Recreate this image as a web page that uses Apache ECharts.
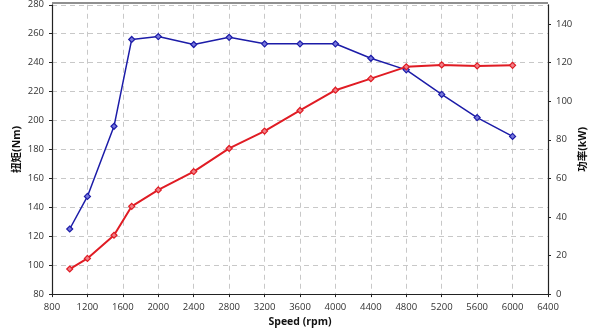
<!DOCTYPE html>
<html>
<head>
<meta charset="utf-8">
<script src="https://cdn.jsdelivr.net/npm/echarts@6/dist/echarts.min.js"></script>
<style>
  html, body { margin: 0; padding: 0; background: #fff; }
  #chart { width: 600px; height: 332px; }
</style>
</head>
<body>
<div id="chart"></div>
<script>
// engine speed (rpm)
const speeds = [1000, 1200, 1500, 1700, 2000, 2400, 2800, 3200, 3600, 4000, 4400, 4800, 5200, 5600, 6000]
// torque, Nm (left axis)
const torque = [125, 147.5, 196, 256, 258, 252.5, 257.5, 253, 253, 253, 243, 235, 218, 202, 189]
// power, kW (right axis)
const power = [13, 18.5, 30.5, 45.5, 54, 63.5, 75.5, 84.5, 95.2, 105.7, 111.7, 117.8, 118.8, 118.3, 118.6]

const FONT = '"Open Sans", "Noto Sans CJK SC", sans-serif'
const TORQUE_COLOR = '#1c1ca8'
const POWER_COLOR = '#e01c24'

const chart = echarts.init(document.getElementById('chart'))

function pairs(xs, ys) {
  return xs.map((x, i) => [x, ys[i]])
}

const labelStyle = { color: '#333', fontSize: 9.5, fontFamily: FONT }
const nameStyle = { color: '#111', fontSize: 10.5, fontWeight: 'bold', fontFamily: FONT }
const plain = v => String(v)

chart.setOption({
  animation: false,
  grid: { left: 52, right: 52, top: 3, bottom: 35 },
  xAxis: {
    type: 'value',
    min: 800,
    max: 6400,
    interval: 400,
    name: 'Speed (rpm)',
    nameLocation: 'middle',
    nameGap: 22,
    nameTextStyle: nameStyle,
    axisLine: { onZero: false, lineStyle: { color: '#222', width: 1.2 } },
    axisTick: { show: true, length: 3, lineStyle: { color: '#222' } },
    axisLabel: Object.assign({ margin: 8, formatter: plain }, labelStyle),
    splitLine: { lineStyle: { color: '#c8c8c8', type: [5, 4] } },
  },
  yAxis: [
    {
      type: 'value',
      min: 80,
      max: 280,
      interval: 20,
      name: '扭矩(Nm)',
      nameLocation: 'middle',
      nameRotate: 90,
      nameGap: 30,
      nameMoveOverlap: false,
      nameTextStyle: nameStyle,
      axisLine: { show: true, lineStyle: { color: '#222', width: 1.2 } },
      axisTick: { show: true, length: 3, lineStyle: { color: '#222' } },
      axisLabel: Object.assign({ margin: 8, formatter: plain }, labelStyle),
      splitLine: { lineStyle: { color: '#c8c8c8', type: [5, 4] } },
    },
    {
      type: 'value',
      min: 0,
      max: 150,
      interval: 20,
      name: '功率(kW)',
      nameLocation: 'middle',
      nameRotate: 90,
      nameGap: 30,
      nameMoveOverlap: false,
      nameTextStyle: nameStyle,
      axisLine: { show: true, lineStyle: { color: '#222', width: 1.2 } },
      axisTick: { show: true, length: 3, lineStyle: { color: '#222' } },
      axisLabel: Object.assign({ margin: 8, showMaxLabel: false, formatter: plain }, labelStyle),
      splitLine: { show: false },
    },
  ],
  graphic: [
    // top border of the plot frame
    { type: 'line', shape: { x1: 52, y1: 3, x2: 548, y2: 3 }, style: { stroke: '#222', lineWidth: 1.2 } },
  ],
  series: [
    {
      name: 'Torque',
      type: 'line',
      yAxisIndex: 0,
      data: pairs(speeds, torque),
      symbol: 'diamond',
      symbolSize: 6,
      lineStyle: { color: TORQUE_COLOR, width: 1.5 },
      itemStyle: { color: '#7878dc', borderColor: TORQUE_COLOR, borderWidth: 1.2 },
    },
    {
      name: 'Power',
      type: 'line',
      yAxisIndex: 1,
      data: pairs(speeds, power),
      symbol: 'diamond',
      symbolSize: 6,
      lineStyle: { color: POWER_COLOR, width: 2 },
      itemStyle: { color: '#f08088', borderColor: POWER_COLOR, borderWidth: 1.2 },
    },
  ],
})

window.addEventListener('resize', () => chart.resize())
</script>
</body>
</html>
